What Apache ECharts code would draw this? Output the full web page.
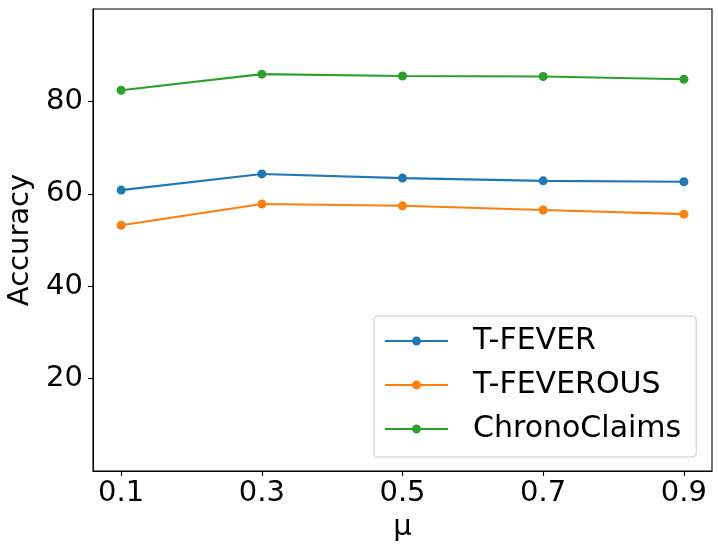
<!DOCTYPE html>
<html>
<head>
<meta charset="utf-8">
<script src="https://cdn.jsdelivr.net/npm/echarts@6/dist/echarts.min.js"></script>
<style>html,body{margin:0;padding:0;background:#fff}#c{width:718px;height:546px}</style>
</head>
<body>
<div id="c"></div>
<script>
const muValues = [0.1, 0.3, 0.5, 0.7, 0.9];
const xTickLabels = [0.1, 0.3, 0.5, 0.7, 0.9];
const yTickLabels = [20, 40, 60, 80];
const seriesNames = ['T-FEVER', 'T-FEVEROUS', 'ChronoClaims'];
const tFever = [60.8, 64.3, 63.4, 62.8, 62.6];
const tFeverous = [53.2, 57.8, 57.4, 56.5, 55.6];
const chronoClaims = [82.4, 85.9, 85.5, 85.4, 84.8];
const colors = ['#1f77b4', '#ff7f0e', '#2ca02c'];

const font = 'DejaVu Sans';
const fs = 29;
const lfs = 30;
const allSeries = [tFever, tFeverous, chronoClaims];
const legendIcon = 'path://M0,4L63,4L63,6L0,6Z M27,5a4.5,4.5 0 1,1 9,0a4.5,4.5 0 1,1 -9,0Z';

const chart = echarts.init(document.getElementById('c'), null, {renderer: 'canvas'});
chart.setOption({
  animation: false,
  backgroundColor: '#fff',
  grid: {left: 93, right: 6, top: 9, bottom: 75, show: true, borderColor: '#000', borderWidth: 1.1, containLabel: false, outerBoundsMode: 'none'},
  xAxis: {
    type: 'value', min: 0.06, max: 0.94,
    name: 'μ', nameLocation: 'middle', nameGap: 40,
    nameTextStyle: {fontFamily: font, fontSize: fs, color: '#000'},
    axisLine: {show: true, lineStyle: {color: '#000', width: 1.1}},
    axisTick: {show: true, customValues: xTickLabels, length: 5, lineStyle: {color: '#000', width: 1.1}},
    axisLabel: {customValues: xTickLabels, fontFamily: font, fontSize: fs, color: '#000', margin: 8, formatter: v => v.toFixed(1)},
    splitLine: {show: false}
  },
  yAxis: {
    type: 'value', min: 0, max: 100,
    name: 'Accuracy', nameLocation: 'middle', nameGap: 54,
    nameTextStyle: {fontFamily: font, fontSize: fs, color: '#000'},
    axisLine: {show: true, lineStyle: {color: '#000', width: 1.1}},
    axisTick: {show: true, customValues: yTickLabels, length: 5, lineStyle: {color: '#000', width: 1.1}},
    axisLabel: {customValues: yTickLabels, fontFamily: font, fontSize: fs, color: '#000', margin: 10},
    splitLine: {show: false}
  },
  legend: {
    orient: 'vertical', left: 374, top: 316,
    backgroundColor: '#fff', borderColor: '#cccccc', borderWidth: 1.1, borderRadius: 4,
    padding: [9, 15, 12, 11],
    itemWidth: 63, itemHeight: 10, itemGap: 12,
    textStyle: {fontFamily: font, fontSize: lfs, color: '#000', lineHeight: 32, padding: [0, 0, 0, 20]},
    data: seriesNames.map((n, i) => ({name: n, icon: legendIcon, itemStyle: {color: colors[i]}}))
  },
  series: seriesNames.map((n, i) => ({
    name: n, type: 'line',
    data: muValues.map((m, j) => [m, allSeries[i][j]]),
    symbol: 'circle', symbolSize: 9,
    lineStyle: {width: 2.1, color: colors[i]},
    itemStyle: {color: colors[i]},
    emphasis: {disabled: true}
  }))
});
</script>
</body>
</html>
